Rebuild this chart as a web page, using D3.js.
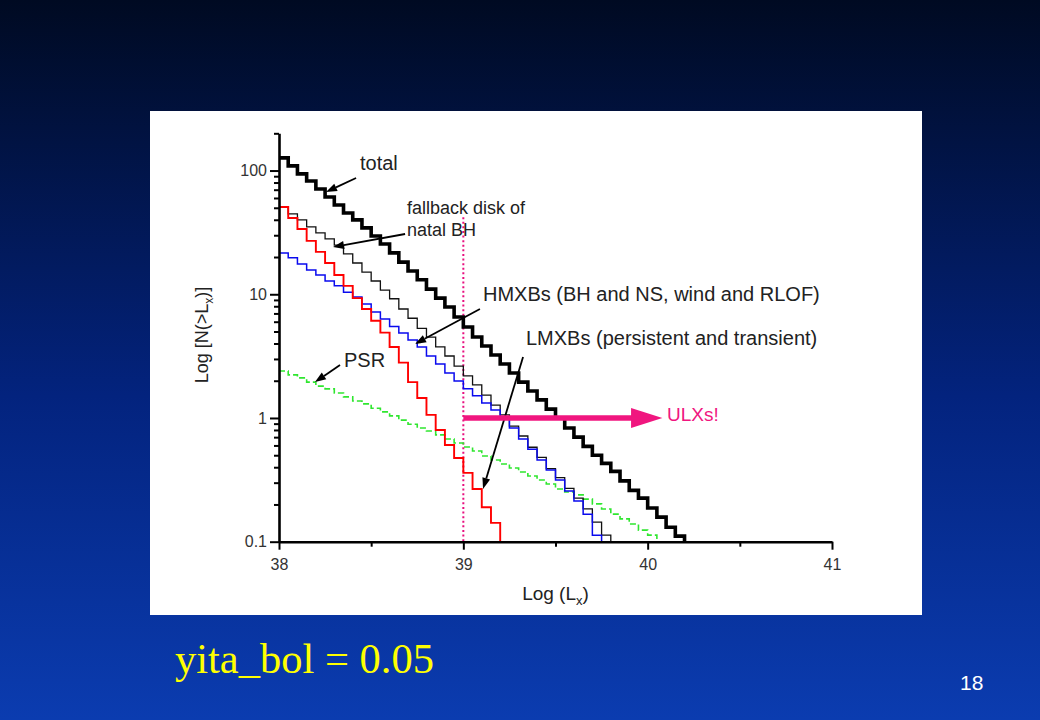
<!DOCTYPE html>
<html><head><meta charset="utf-8">
<script src="https://cdn.jsdelivr.net/npm/d3@7"></script>
<style>
html,body{margin:0;padding:0;background:#000;}
svg{display:block;}
</style></head>
<body>
<svg id="c" width="1040" height="720"></svg>
<script>
// ---------- data ----------
const lxBins = [38.00,38.05,38.10,38.15,38.20,38.25,38.30,38.35,38.40,38.45,
                38.50,38.55,38.60,38.65,38.70,38.75,38.80,38.85,38.90,38.95,
                39.00,39.05,39.10,39.15,39.20,39.25,39.30,39.35,39.40,39.45,
                39.50,39.55,39.60,39.65,39.70,39.75,39.80,39.85,39.90,39.95,
                40.00,40.05,40.10,40.15,40.20];
const totalN = [126.5,109,94,82.4,71,61.2,52.7,45.4,39.9,34.4,29.6,25.5,21.6,18.2,15.4,13.1,11.0,9.3,7.9,6.55,
                5.44,4.52,3.82,3.23,2.73,2.31,1.95,1.65,1.40,1.18,1.00,0.83,0.70,0.59,0.50,0.43,0.37,0.31,0.26,0.225,
                0.187,0.158,0.131,0.111];
const fallbackN = [50.8,44.6,39.9,35.0,31.3,28.0,25.0,21.2,17.9,15.1,12.8,10.8,9.2,7.6,6.4,5.3,4.5,3.75,3.17,2.63,
                   2.19,1.85,1.53,1.27,1.06,0.86,0.715,0.58,0.48,0.39,0.33,0.27,0.225,0.184,0.144,0.113];
const hmxbN = [21.6,19.7,17.6,15.7,14.3,12.8,11.7,10.4,9.5,8.35,7.2,6.3,5.5,4.87,4.27,3.75,3.17,2.73,2.31,1.99,
               1.72,1.51,1.32,1.16,1.0,0.83,0.676,0.56,0.457,0.38,0.315,0.257,0.213,0.167,0.113];
const lmxbN = [50.8,41.4,33.7,27.0,22.0,17.9,14.3,11.7,9.3,7.6,6.1,4.9,3.75,2.8,1.95,1.45,1.06,0.80,0.605,0.475,
               0.36,0.267,0.19,0.142];
const psrN = [2.40,2.23,2.11,1.95,1.81,1.72,1.59,1.48,1.37,1.30,1.20,1.12,1.04,0.96,0.89,0.83,0.785,0.73,0.676,0.628,
              0.583,0.541,0.493,0.457,0.425,0.394,0.366,0.34,0.315,0.293,0.267,0.252,0.239,0.221,0.202,0.184,0.167,0.153,0.139,0.124,
              0.113];

const xMajor = [38,39,40,41];
const xTickLabels = ["38","39","40","41"];
const xMinor = [38.5,39.5,40.5];
const yMajor = [0.1,1,10,100];
const yTickLabels = ["0.1","1","10","100"];
const yMinor = [0.2,0.3,0.4,0.5,0.6,0.7,0.8,0.9,2,3,4,5,6,7,8,9,20,30,40,50,60,70,80,90,200];

const ulxStart = 39, ulxHeadBase = 39.91, ulxTip = 40.08, ulxLevel = 1;
const dottedTop = 42;

// annotation arrows in data units: [Ltail, Ntail, Ltip, Ntip]
const arrowTotal = [38.418, 87.1, 38.255, 67.1];
const arrowFallback = [38.684, 30.7, 38.293, 24.1];
const arrowHmxb = [39.090, 7.6, 38.738, 3.96];
const arrowLmxb = [39.324, 3.11, 39.107, 0.267];
const arrowPsr = [38.331, 2.68, 38.195, 1.95];

// ---------- drawing ----------
const W = 1040, H = 720;
const sans = '"Liberation Sans", Arial, Helvetica, sans-serif';
const svg = d3.select('#c');
const defs = svg.append('defs');
const grad = defs.append('linearGradient').attr('id','bg').attr('x1',0).attr('y1',0).attr('x2',0).attr('y2',1);
grad.append('stop').attr('offset','0%').attr('stop-color','#000a22');
grad.append('stop').attr('offset','55%').attr('stop-color','#03237e');
grad.append('stop').attr('offset','100%').attr('stop-color','#0b3cb0');
svg.append('rect').attr('width',W).attr('height',H).attr('fill','url(#bg)');
svg.append('rect').attr('x',150).attr('y',111).attr('width',772).attr('height',504).attr('fill','#ffffff');

const x = d3.scaleLinear().domain([38,41]).range([279,832]);
const y = d3.scaleLog().domain([0.1,200]).range([541.7,133.3]);

function stepPoints(vals){
  const pts = vals.map((v,i)=>[lxBins[i], v]);
  pts.push([lxBins[vals.length], 0.1]);
  return pts;
}
const line = d3.line().x(d=>x(d[0])).y(d=>y(d[1])).curve(d3.curveStepAfter);

const plot = svg.append('g');
// dotted threshold
plot.append('line').attr('x1',x(ulxStart)).attr('x2',x(ulxStart))
  .attr('y1',y(dottedTop)).attr('y2',y(0.1))
  .attr('stroke','#e8107f').attr('stroke-width',2).attr('stroke-dasharray','2,2.6');

const series = [
  {vals: psrN, color:'#2fe62f', w:1.6, dash:'6,3'},
  {vals: fallbackN, color:'#111', w:1.3},
  {vals: hmxbN, color:'#0a0aee', w:1.5},
  {vals: lmxbN, color:'#ff0000', w:1.9},
  {vals: totalN, color:'#000', w:3.6}
];
series.forEach(s=>{
  plot.append('path').attr('d', line(stepPoints(s.vals)))
    .attr('fill','none').attr('stroke',s.color).attr('stroke-width',s.w)
    .attr('stroke-dasharray', s.dash || null).attr('stroke-linejoin','miter');
});

// axes
function styleAxis(g){
  g.attr('font-family', sans).attr('font-size', 16);
  g.selectAll('.domain').attr('stroke','#000').attr('stroke-width',2.6);
  g.selectAll('.tick line').attr('stroke','#000').attr('stroke-width',2);
  g.selectAll('.tick text').attr('fill','#333');
}
const gx = svg.append('g').attr('transform',`translate(0,${y(0.1)})`);
gx.call(d3.axisBottom(x).tickValues(xMajor).tickSize(8).tickSizeOuter(0).tickPadding(9)
  .tickFormat((d,i)=>xTickLabels[i]));
styleAxis(gx);
const gxm = svg.append('g').attr('transform',`translate(0,${y(0.1)})`);
gxm.call(d3.axisBottom(x).tickValues(xMinor).tickSize(5).tickFormat(''));
gxm.select('.domain').remove();
styleAxis(gxm);

const gy = svg.append('g').attr('transform',`translate(${x(38)},0)`);
gy.call(d3.axisLeft(y).tickValues(yMajor).tickSize(9).tickSizeOuter(0).tickPadding(3)
  .tickFormat((d,i)=>yTickLabels[i]));
styleAxis(gy);
const gym = svg.append('g').attr('transform',`translate(${x(38)},0)`);
gym.call(d3.axisLeft(y).tickValues(yMinor).tickSize(5).tickFormat(''));
gym.select('.domain').remove();
styleAxis(gym);

// axis titles
const xt = svg.append('text').attr('x', x(39.5)).attr('y', 600).attr('text-anchor','middle')
  .attr('font-family',sans).attr('font-size',19).attr('fill','#222');
xt.append('tspan').text('Log (L');
xt.append('tspan').attr('font-size',13).attr('dy',5).text('x');
xt.append('tspan').attr('dy',-5).text(')');

const yt = svg.append('text').attr('transform','translate(208,335) rotate(-90)').attr('text-anchor','middle')
  .attr('font-family',sans).attr('font-size',18).attr('fill','#222');
yt.append('tspan').text('Log [N(>L');
yt.append('tspan').attr('font-size',12).attr('dy',5).text('x');
yt.append('tspan').attr('dy',-5).text(')]');

// annotation arrows
function arrow(a, color, w, hl, hw){
  const x1=x(a[0]), y1=y(a[1]), x2=x(a[2]), y2=y(a[3]);
  const ang=Math.atan2(y2-y1,x2-x1);
  const bx=x2-hl*Math.cos(ang), by=y2-hl*Math.sin(ang);
  svg.append('line').attr('x1',x1).attr('y1',y1).attr('x2',bx).attr('y2',by)
    .attr('stroke',color).attr('stroke-width',w);
  const px=-Math.sin(ang)*hw/2, py=Math.cos(ang)*hw/2;
  svg.append('polygon').attr('points',`${x2},${y2} ${bx+px},${by+py} ${bx-px},${by-py}`).attr('fill',color);
}
[arrowTotal, arrowFallback, arrowHmxb, arrowLmxb, arrowPsr].forEach(a=>arrow(a,'#000',1.8,11,8));

// ULX arrow
const pink = '#f0167f';
svg.append('line').attr('x1',x(ulxStart)).attr('x2',x(ulxHeadBase)+2)
  .attr('y1',y(ulxLevel)).attr('y2',y(ulxLevel)).attr('stroke',pink).attr('stroke-width',5.5);
svg.append('polygon').attr('points',
  `${x(ulxTip)},${y(ulxLevel)} ${x(ulxHeadBase)},${y(ulxLevel)-10} ${x(ulxHeadBase)},${y(ulxLevel)+10}`)
  .attr('fill',pink);

// labels
function label(t, px, py, fs, col){
  svg.append('text').attr('x',px).attr('y',py).attr('font-family',sans).attr('font-size',fs)
    .attr('fill',col||'#222').text(t);
}
label('total', 360, 170, 20);
label('fallback disk of', 407, 214, 18);
label('natal BH', 407, 236, 18);
label('HMXBs (BH and NS, wind and RLOF)', 483, 301, 20);
label('LMXBs (persistent and transient)', 526, 345, 20);
label('PSR', 344, 367, 20);
label('ULXs!', 667, 421, 19, pink);

svg.append('text').attr('x',175).attr('y',673).attr('font-family','"Liberation Serif", "Times New Roman", serif')
  .attr('font-size',42.5).attr('fill','#ffff00').text('yita_bol = 0.05');
svg.append('text').attr('x',960).attr('y',690).attr('font-family',sans)
  .attr('font-size',21).attr('fill','#ffffff').text('18');
</script>
</body></html>
